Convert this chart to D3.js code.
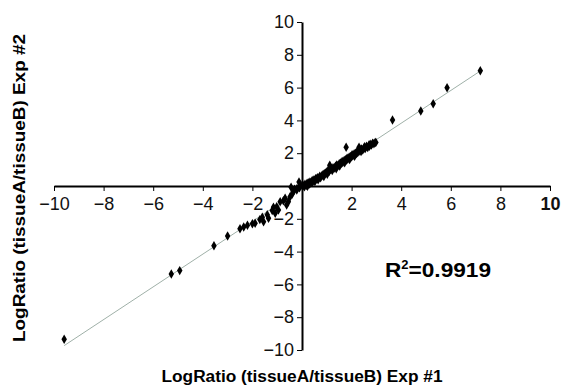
<html>
<head>
<meta charset="utf-8">
<script src="https://d3js.org/d3.v7.min.js"></script>
<style>
body { margin: 0; background: #fff; }
svg { font-family: 'Liberation Sans', Arial, sans-serif; }
.tick text { font-size: 18px; fill: #111; }
.axis path, .axis line { stroke: #000; }
.title { font-weight: bold; fill: #000; }
</style>
</head>
<body>
<svg width="562" height="385"></svg>
<script>
var exp1 = [-9.59, -5.27, -4.93, -3.55, -3.0, -2.5, -2.35, -2.2, -2.0, -1.89, -1.7, -1.6, -1.55, -1.4, -1.35,
  -1.2, -1.15, -1.08, -1.02, -0.95, -0.88, -0.75, -0.68, -0.62, -0.55, -0.48, -0.44, -0.4, -0.35, -0.3,
  -0.21, -0.2, -0.12, -0.1, -0.05,
  0.05, 0.1, 0.12, 0.18, 0.2, 0.22, 0.25, 0.3, 0.32, 0.35, 0.4, 0.42, 0.45, 0.5, 0.52, 0.55, 0.6, 0.62,
  0.65, 0.7, 0.72, 0.75, 0.8, 0.85, 0.88, 0.9, 0.95, 1.0, 1.02, 1.05, 1.1, 1.12, 1.15, 1.2, 1.22, 1.25,
  1.3, 1.35, 1.38, 1.4, 1.45, 1.5, 1.52, 1.55, 1.6, 1.62, 1.65, 1.7, 1.72, 1.75, 1.78, 1.8, 1.82, 1.85,
  1.9, 1.92, 1.95, 2.0, 2.02, 2.05, 2.1, 2.12, 2.15, 2.2, 2.22, 2.25, 2.3, 2.3, 2.35, 2.38, 2.4, 2.45,
  2.5, 2.52, 2.55, 2.6, 2.65, 2.7, 2.72, 2.75, 2.8, 2.85, 2.9, 2.95, 2.98,
  3.65, 4.79, 5.29, 5.85, 7.19];
var exp2 = [-9.35, -5.37, -5.16, -3.65, -3.05, -2.6, -2.5, -2.4, -2.3, -2.27, -2.05, -1.9, -2.18, -1.75, -1.97,
  -1.5, -1.3, -1.66, -1.26, -1.46, -0.96, -0.9, -0.75, -1.16, -0.96, -0.65, -0.08, -0.5, -0.35, -0.2,
  -0.24, -0.15, 0.25, -0.1, 0.05,
  0.02, -0.05, 0.1, 0.05, 0.15, -0.02, 0.2, 0.12, 0.25, 0.18, 0.3, 0.22, 0.37, 0.35, 0.28, 0.45, 0.42, 0.5,
  0.38, 0.55, 0.6, 0.5, 0.62, 0.7, 0.58, 0.75, 0.8, 0.85, 0.72, 0.95, 0.9, 1.26, 1.0, 1.05, 0.95, 1.12,
  1.1, 1.2, 1.05, 1.28, 1.25, 1.35, 1.22, 1.4, 1.38, 1.5, 1.45, 1.55, 1.42, 1.6, 2.36, 1.58, 1.7, 1.65,
  1.75, 1.62, 1.8, 1.78, 1.9, 1.85, 1.95, 1.82, 2.0, 1.98, 2.1, 2.05, 2.36, 2.12, 2.2, 2.1, 2.25, 2.2,
  2.3, 2.4, 2.28, 2.42, 2.35, 2.5, 2.42, 2.55, 2.5, 2.6, 2.58, 2.65, 2.66,
  4.02, 4.57, 5.02, 5.99, 7.03];
var tickVals = [-10, -8, -6, -4, -2, 2, 4, 6, 8, 10];
var rLabel = "0.9919";

var svg = d3.select("svg");
var x = d3.scaleLinear().domain([-10, 10]).range([54, 550]);
var y = d3.scaleLinear().domain([-10, 10]).range([350, 22]);

var points = exp1.map(function (d, i) { return [d, exp2[i]]; });

// linear trend line (least squares)
var mx = d3.mean(exp1), my = d3.mean(exp2);
var sxy = d3.sum(points, function (p) { return (p[0] - mx) * (p[1] - my); });
var sxx = d3.sum(exp1, function (v) { return (v - mx) * (v - mx); });
var slope = sxy / sxx, icpt = my - slope * mx;
var x0 = d3.min(exp1), x1 = d3.max(exp1);

svg.append("line")
  .attr("x1", x(x0)).attr("y1", y(slope * x0 + icpt))
  .attr("x2", x(x1)).attr("y2", y(slope * x1 + icpt))
  .attr("stroke", "#9fb0a8").attr("stroke-width", 1);

var xAxis = svg.append("g").attr("class", "axis")
  .attr("transform", "translate(0," + y(0) + ")")
  .call(d3.axisBottom(x).tickValues(tickVals).tickSize(5).tickSizeOuter(0).tickPadding(6));
xAxis.select(".domain").attr("stroke-width", 2);
xAxis.selectAll(".tick text").filter(function (d) { return d === 10; }).style("font-weight", "bold");

var yAxis = svg.append("g").attr("class", "axis")
  .attr("transform", "translate(" + x(0) + ",0)")
  .call(d3.axisLeft(y).tickValues(tickVals).tickSize(5).tickSizeOuter(0).tickPadding(3));
yAxis.select(".domain").attr("stroke-width", 2);

svg.selectAll("path.pt").data(points).enter().append("path")
  .attr("class", "pt")
  .attr("d", d3.symbol().type(d3.symbolDiamond).size(26))
  .attr("transform", function (d) { return "translate(" + x(d[0]) + "," + y(d[1]) + ")"; })
  .attr("fill", "#000");

svg.append("text").attr("class", "title")
  .attr("x", 302).attr("y", 382).attr("text-anchor", "middle")
  .attr("textLength", 281).attr("lengthAdjust", "spacingAndGlyphs")
  .style("font-size", "16px")
  .text("LogRatio (tissueA/tissueB) Exp #1");

svg.append("text").attr("class", "title")
  .attr("transform", "translate(25,188) rotate(-90)").attr("text-anchor", "middle")
  .attr("textLength", 308).attr("lengthAdjust", "spacingAndGlyphs")
  .style("font-size", "16px")
  .text("LogRatio (tissueA/tissueB) Exp #2");

var r = svg.append("text").attr("class", "title")
  .attr("x", 385).attr("y", 277).style("font-size", "21px")
  .attr("textLength", 106).attr("lengthAdjust", "spacingAndGlyphs");
r.append("tspan").text("R");
r.append("tspan").attr("dy", -8).style("font-size", "12px").text("2");
r.append("tspan").attr("dy", 8).text("=" + rLabel);
</script>
</body>
</html>
